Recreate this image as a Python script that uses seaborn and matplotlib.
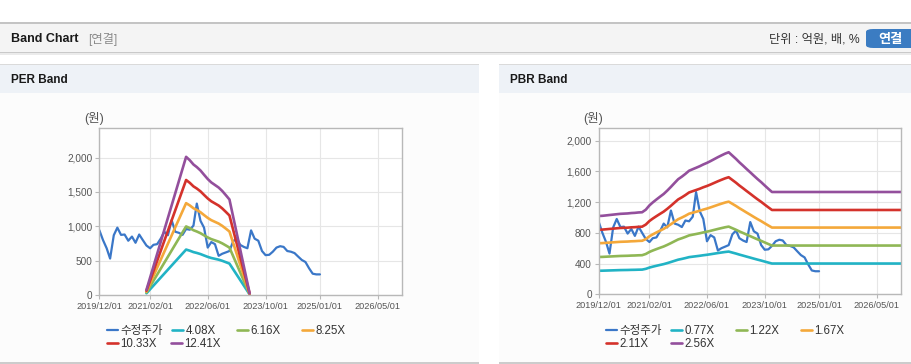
import numpy as np
import pandas as pd
import matplotlib
matplotlib.use('Agg')
import matplotlib.pyplot as plt
import matplotlib.dates as mdates
from matplotlib.patches import Rectangle, FancyBboxPatch
from matplotlib.ticker import FuncFormatter, FixedLocator
import seaborn as sns

# ---------------- data ----------------
price_dates = pd.date_range('2019-12-01', '2025-01-01', freq='MS')
price = [945, 800, 680, 530, 870, 980, 875, 880, 790, 850, 760, 880,
         800, 720, 680, 730, 740, 820, 920, 870, 1090, 920, 905, 875,
         960, 950, 1010, 1330, 1080, 980, 690, 770, 740, 570, 600, 620,
         640, 780, 830, 730, 700, 680, 940, 820, 790, 640, 580, 585,
         630, 690, 710, 700, 640, 630, 610, 560, 510, 480, 390, 310, 300, 300]

eps_dates = pd.to_datetime(['2021-01-01', '2021-12-01', '2022-01-01', '2022-02-01',
                            '2022-03-01', '2022-04-01', '2022-05-01', '2022-06-01',
                            '2022-07-01', '2022-08-01', '2022-09-01', '2022-10-01',
                            '2022-11-01', '2022-12-01', '2023-05-20'])
eps = [6, 162, 158, 153, 150, 146, 141, 136, 132, 129, 126, 122, 117, 112, 2]
per_mult = [4.08, 6.16, 8.25, 10.33, 12.41]

bps_dates = list(pd.date_range('2019-12-01', '2023-12-01', freq='MS')) + [pd.Timestamp('2026-11-23')]
bps = [398, 399, 401, 403, 405, 407, 409, 410, 411, 413, 414, 416,
       417, 430, 452, 467, 482, 496, 510, 527, 546, 566, 585, 598,
       612, 628, 636, 643, 651, 660, 668, 677, 687, 697, 706, 715,
       722, 705, 688, 671, 654, 637, 620, 603, 586, 570, 553, 536,
       520, 520]
pbr_mult = [0.77, 1.22, 1.67, 2.11, 2.56]

xtick_dates = pd.to_datetime(['2019-12-01', '2021-02-01', '2022-06-01',
                              '2023-10-01', '2025-01-01', '2026-05-01'])
x_start, x_end = pd.Timestamp('2019-12-01'), pd.Timestamp('2026-11-23')
per_yticks = [0, 500, 1000, 1500, 2000]
pbr_yticks = [0, 400, 800, 1200, 1600, 2000]
price_label = '수정주가'

colors = ['#3a77c8', '#21b3c5', '#8fb755', '#f4a83a', '#d4322b', '#934f9c']

# ---------------- style ----------------
sns.set_theme(style='white')
plt.rcParams['font.family'] = ['Liberation Sans', 'Noto Sans CJK KR', 'DejaVu Sans']

W, H = 912, 364
fig = plt.figure(figsize=(W / 100, H / 100), dpi=100)
fig.patch.set_facecolor('white')


def fx(x):
    return x / W


def fy(y):
    return 1 - y / H


def rect(x0, y0, x1, y1, color):
    fig.patches.append(Rectangle((fx(x0), fy(y1)), (x1 - x0) / W, (y1 - y0) / H,
                                 transform=fig.transFigure, color=color, zorder=-10, lw=0))


# top header bar
rect(0, 22, W, 23.5, '#c4c4c4')
rect(0, 23.5, W, 52, '#f4f4f4')
rect(0, 52, W, 53, '#c9c9c9')
rect(0, 53, W, 54.5, '#ebebeb')
fig.text(fx(11), fy(38.5), 'Band Chart', fontsize=9, fontweight='bold', color='#1a1a1a',
         ha='left', va='center')
fig.text(fx(88), fy(39.5), '[연결]', fontsize=8.8, color='#8a8a8a', ha='left', va='center')
fig.text(fx(860), fy(39.5), '단위 : 억원, 배, %', fontsize=8.8, color='#333333',
         ha='right', va='center')
fig.patches.append(FancyBboxPatch((fx(866), fy(48)), fx(60), (48 - 29) / H,
                                  boxstyle='round,pad=0,rounding_size=0.008',
                                  transform=fig.transFigure, color='#3b7cc2', lw=0, zorder=-5))
fig.text(fx(890), fy(40.5), '연결', fontsize=9.5, fontweight='bold', color='white',
         ha='center', va='center')

# panels
for (l, r, title) in [(0, 479, 'PER Band'), (499, W, 'PBR Band')]:
    rect(l, 64, r, 362, '#fcfcfc')
    rect(l, 64, r, 65, '#dadada')
    rect(l, 65, r, 93, '#eef2f7')
    rect(l, 362, r, 363.5, '#cccccc')
    fig.text(fx(l + 11), fy(80), title, fontsize=8.5, fontweight='bold', color='#1a1a1a',
             ha='left', va='center')


def make_ax(l, r, t, b):
    ax = fig.add_axes([fx(l), fy(b), (r - l) / W, (b - t) / H])
    ax.set_zorder(5)
    return ax


def style_ax(ax, yticks, ymax):
    ax.set_facecolor('white')
    ax.set_xlim(x_start, x_end)
    ax.set_ylim(0, ymax)
    ax.xaxis.set_major_locator(FixedLocator(mdates.date2num(xtick_dates)))
    ax.xaxis.set_major_formatter(mdates.DateFormatter('%Y/%m/%d'))
    ax.yaxis.set_major_locator(FixedLocator(yticks))
    ax.yaxis.set_major_formatter(FuncFormatter(lambda v, p: f'{int(v):,}'))
    ax.grid(True, color='#e6e6e6', lw=0.8)
    ax.set_axisbelow(True)
    for s in ax.spines.values():
        s.set_color('#b8b8b8')
        s.set_linewidth(1.0)
    ax.tick_params(axis='both', bottom=True, left=True, length=3, width=0.8,
                   color='#b8b8b8', labelcolor='#555555', pad=2, direction='out')
    ax.tick_params(axis='x', labelsize=6.6)
    ax.tick_params(axis='y', labelsize=7.2)
    ax.set_xlabel('')
    ax.set_ylabel('')


def draw(ax, base_dates, base, mults, fmt):
    lines = []
    labels = []
    sns.lineplot(x=price_dates, y=price, ax=ax, color=colors[0], lw=1.6, estimator=None)
    lines.append(ax.lines[-1])
    labels.append(price_label)
    for i, m in enumerate(mults):
        vals = [m * v for v in base]
        sns.lineplot(x=base_dates, y=vals, ax=ax, color=colors[i + 1], lw=1.9, estimator=None)
        lines.append(ax.lines[-1])
        labels.append(fmt.format(m))
    return lines, labels


def legend_items(lines, labels, text_x, rows_y):
    positions = [(text_x[0][0], rows_y[0]), (text_x[0][1], rows_y[0]), (text_x[0][2], rows_y[0]),
                 (text_x[0][3], rows_y[0]), (text_x[1][0], rows_y[1]), (text_x[1][1], rows_y[1])]
    for ln, lab, (tx, ty) in zip(lines, labels, positions):
        fs = 8.3
        fig.legend(handles=[ln], labels=[lab], loc='center left',
                   bbox_to_anchor=(fx(tx - 14), fy(ty)), frameon=False, borderpad=0,
                   borderaxespad=0, handlelength=0.95, handletextpad=0.22,
                   fontsize=fs, labelcolor='#333333')


# PER
ax1 = make_ax(99.3, 402, 128, 295)
l1, lab1 = draw(ax1, eps_dates, eps, per_mult, '{:.2f}X')
style_ax(ax1, per_yticks, 2430)
fig.text(fx(94), fy(118.5), '(원)', fontsize=9, color='#555555', ha='center', va='center')
legend_items(l1, lab1, [[121, 186, 251, 316], [121, 185]], [330.7, 344.2])

# PBR
ax2 = make_ax(598.7, 901, 128.3, 294.3)
l2, lab2 = draw(ax2, bps_dates, bps, pbr_mult, '{:.2f}X')
style_ax(ax2, pbr_yticks, 2160)
fig.text(fx(593), fy(118.5), '(원)', fontsize=9, color='#555555', ha='center', va='center')
legend_items(l2, lab2, [[620, 685, 750, 815], [620, 685]], [330.7, 344.2])

fig.savefig('out.png', dpi=100, facecolor=fig.get_facecolor())
